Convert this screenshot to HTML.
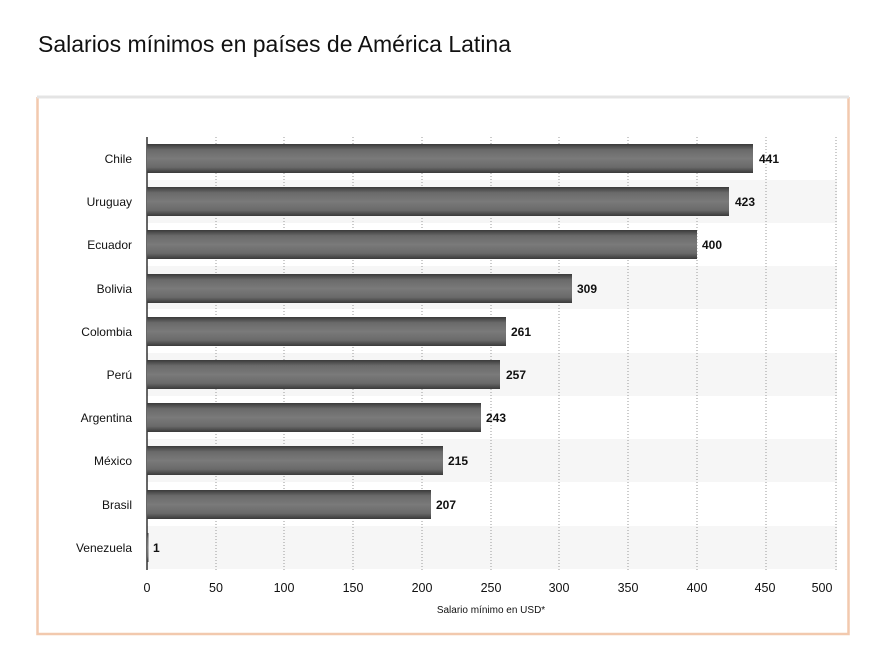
<!DOCTYPE html>
<html><head><style>
body{margin:0;background:#fff;width:870px;height:644px;overflow:hidden;font-family:"Liberation Sans",sans-serif;}
</style></head><body>
<svg width="870" height="644" xmlns="http://www.w3.org/2000/svg" font-family="Liberation Sans, sans-serif">
<defs>
<linearGradient id="g" x1="0" y1="0" x2="0" y2="1">
<stop offset="0" stop-color="#3a3a3a"/><stop offset="0.2" stop-color="#6a6a6a"/><stop offset="0.5" stop-color="#7a7a7a"/><stop offset="0.8" stop-color="#6a6a6a"/><stop offset="1" stop-color="#3a3a3a"/>
</linearGradient>
</defs>
<text x="38" y="52" font-size="23" fill="#111">Salarios mínimos en países de América Latina</text>
<path d="M37.5 97 V634 H848.5 V97" fill="none" stroke="#f2c9ae" stroke-width="2.5"/>
<line x1="37" y1="97" x2="849" y2="97" stroke="#e4e4e4" stroke-width="3"/>
<g fill="#f6f6f6">
<rect x="147" y="180" width="690" height="43"/>
<rect x="147" y="266" width="690" height="43"/>
<rect x="147" y="353" width="690" height="43"/>
<rect x="147" y="439" width="690" height="43"/>
<rect x="147" y="526" width="690" height="43"/>
</g>
<g stroke="#999" stroke-dasharray="1,2" stroke-width="1">
<line x1="216" y1="137" x2="216" y2="570"/><line x1="284" y1="137" x2="284" y2="570"/>
<line x1="353" y1="137" x2="353" y2="570"/><line x1="422" y1="137" x2="422" y2="570"/>
<line x1="491" y1="137" x2="491" y2="570"/><line x1="559" y1="137" x2="559" y2="570"/>
<line x1="628" y1="137" x2="628" y2="570"/><line x1="697" y1="137" x2="697" y2="570"/>
<line x1="766" y1="137" x2="766" y2="570"/><line x1="836" y1="137" x2="836" y2="570"/>
</g>
<line x1="147" y1="137" x2="147" y2="570" stroke="#000" stroke-width="1.2"/>
<g fill="url(#g)">
<rect x="147" y="144" width="606" height="29"/>
<rect x="147" y="187" width="582" height="29"/>
<rect x="147" y="230" width="550" height="29"/>
<rect x="147" y="274" width="425" height="29"/>
<rect x="147" y="317" width="359" height="29"/>
<rect x="147" y="360" width="353" height="29"/>
<rect x="147" y="403" width="334" height="29"/>
<rect x="147" y="446" width="296" height="29"/>
<rect x="147" y="490" width="284" height="29"/>
<rect x="147" y="533" width="1.5" height="29"/>
</g>
<g font-size="12" fill="#111" text-anchor="end">
<text x="132" y="163">Chile</text><text x="132" y="206">Uruguay</text><text x="132" y="249">Ecuador</text>
<text x="132" y="293">Bolivia</text><text x="132" y="336">Colombia</text><text x="132" y="379">Perú</text>
<text x="132" y="422">Argentina</text><text x="132" y="465">México</text><text x="132" y="509">Brasil</text>
<text x="132" y="552">Venezuela</text>
</g>
<g font-size="12" font-weight="bold" fill="#111">
<text x="759" y="163">441</text><text x="735" y="206">423</text><text x="702" y="249">400</text>
<text x="577" y="293">309</text><text x="511" y="336">261</text><text x="506" y="379">257</text>
<text x="486" y="422">243</text><text x="448" y="465">215</text><text x="436" y="509">207</text>
<text x="153" y="552">1</text>
</g>
<g font-size="12.5" fill="#111" text-anchor="middle">
<text x="147" y="592">0</text><text x="216" y="592">50</text><text x="284" y="592">100</text>
<text x="353" y="592">150</text><text x="422" y="592">200</text><text x="491" y="592">250</text>
<text x="559" y="592">300</text><text x="628" y="592">350</text><text x="697" y="592">400</text>
<text x="765" y="592">450</text><text x="822" y="592">500</text>
</g>
<text x="491" y="613" font-size="10" fill="#111" text-anchor="middle">Salario mínimo en USD*</text>
</svg>
</body></html>
